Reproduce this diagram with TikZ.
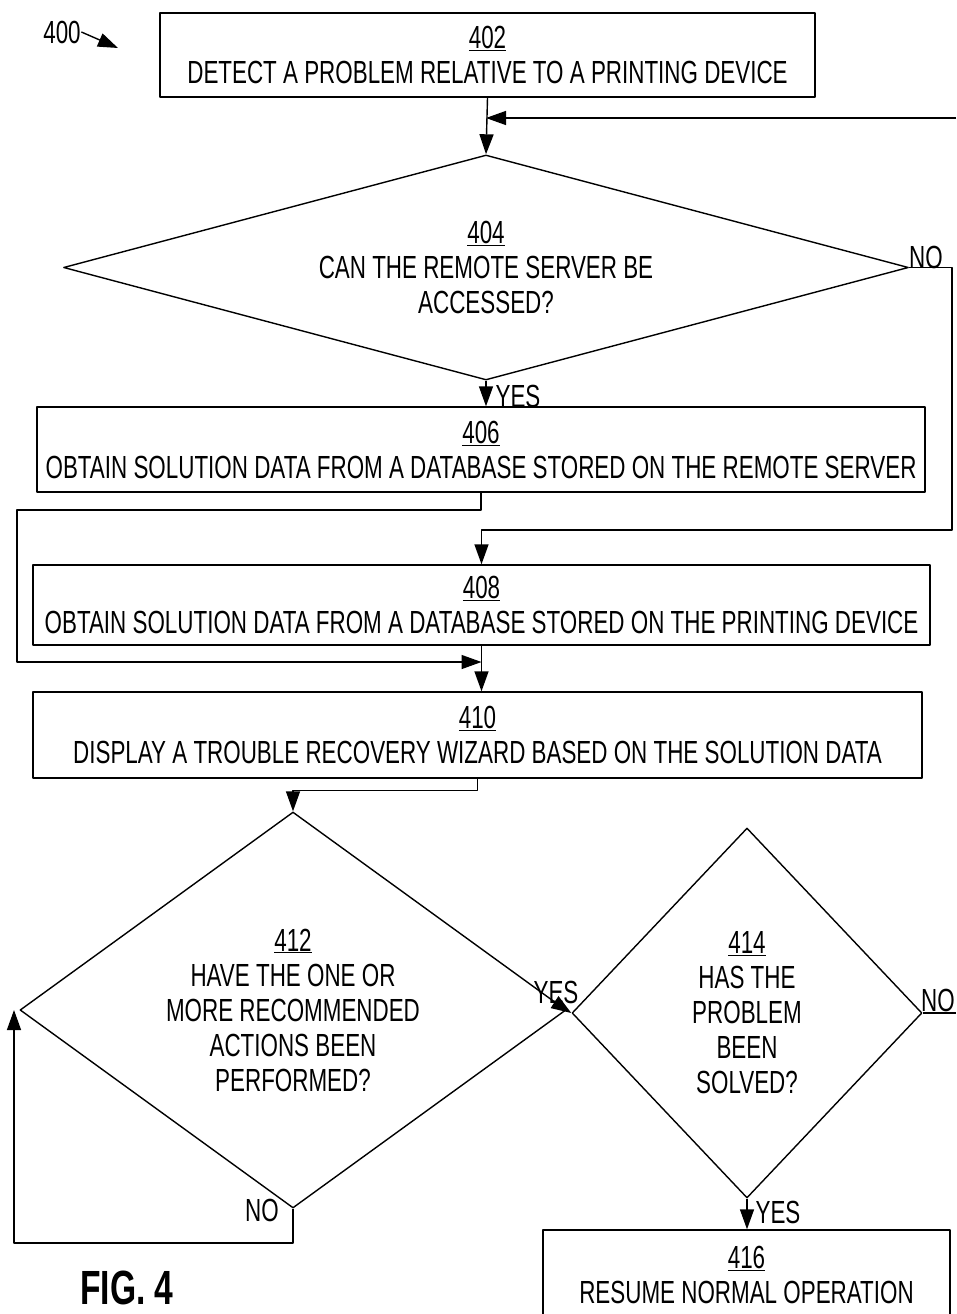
\documentclass[tikz,border=0pt]{standalone}
\usepackage{fontspec}
\setmainfont{Liberation Sans}[FakeStretch=0.70]
\usetikzlibrary{shapes.geometric,arrows.meta}
\begin{document}
\begin{tikzpicture}[x=1pt, y=-1pt, line width=1.4pt, line join=round, >={Triangle[length=20pt,width=14pt]},
	font=\fontsize{32}{35}\selectfont,
	stepbox/.style={draw, rectangle, inner sep=0pt, align=center},
	testbox/.style={draw, diamond, inner sep=0pt, align=center},
	lbl/.style={inner sep=0pt}]
	\useasboundingbox (0,0) rectangle (956,1314);
	\node[stepbox, minimum width=655pt, minimum height=84pt] (b402) at (487.5,55) {\underline{402}\\DETECT A PROBLEM RELATIVE TO A PRINTING DEVICE};
	\node[testbox, aspect=3.76, minimum width=845pt, minimum height=225pt] (d404) at (486,267.5) {\underline{404}\\CAN THE REMOTE SERVER BE\\ACCESSED?};
	\node[stepbox, minimum width=888pt, minimum height=85pt] (b406) at (481,449.5) {\underline{406}\\OBTAIN SOLUTION DATA FROM A DATABASE STORED ON THE REMOTE SERVER};
	\node[stepbox, minimum width=897pt, minimum height=80pt] (b408) at (481.5,605) {\underline{408}\\OBTAIN SOLUTION DATA FROM A DATABASE STORED ON THE PRINTING DEVICE};
	\node[stepbox, minimum width=889pt, minimum height=86pt] (b410) at (477.5,735) {\underline{410}\\DISPLAY A TROUBLE RECOVERY WIZARD BASED ON THE SOLUTION DATA};
	\node[testbox, aspect=1.38, minimum width=546pt, minimum height=396pt] (d412) at (293,1010) {\underline{412}\\HAVE THE ONE OR\\MORE RECOMMENDED\\ACTIONS BEEN\\PERFORMED?};
	\node[testbox, aspect=0.95, minimum width=350pt, minimum height=370pt] (d414) at (747,1013) {\underline{414}\\HAS THE\\PROBLEM\\BEEN\\SOLVED?};
	\node[stepbox, minimum width=407pt, minimum height=90pt] (b416) at (746.5,1275) {\underline{416}\\RESUME NORMAL OPERATION};
	\node[lbl] (n400) at (62,32) {400};
	\node[lbl, font=\fontsize{48}{52}\selectfont\bfseries] (fig) at (127,1288) {FIG. 4};
	\coordinate (p400) at (118,48);
	\coordinate (in402) at (956,118);
	\coordinate (r404) at (952,530);
	\coordinate (l406) at (17,510);
	\coordinate (j410) at (481.5,662);
	\coordinate (l412) at (14,1243);
	\coordinate (r414) at (956,1013);
	\draw[->] (n400.east) -- (p400);
	\draw[->] (b402.south) -- (d404.north);
	\draw[->] (in402) -- (in402 -| d404.north);
	\draw[->] (d404.east) -| (r404) -| (b408.north);
	\draw[->] (d404.south) -- (d404.south |- b406.north);
	\draw[->] (b406.south) |- (l406) |- (j410);
	\draw[->] (b408.south) -- (b408.south |- b410.north);
	\draw[->] (b410.south) -- ++(0,12) -| (d412.north);
	\draw[->] (d412.east) -- (d414.west);
	\draw (d414.east) -- (r414);
	\draw[->] (d414.south) -- (d414.south |- b416.north);
	\draw[->] (d412.south) |- (l412) -- (l412 |- d412.west);
	\node[lbl] (no404) at (926,257) {NO};
	\node[lbl] (yes404) at (518,396) {YES};
	\node[lbl] (yes412) at (556,992) {YES};
	\node[lbl] (no412) at (262,1210) {NO};
	\node[lbl] (no414) at (938,1000) {NO};
	\node[lbl] (yes414) at (778,1212) {YES};
\end{tikzpicture}
\end{document}
